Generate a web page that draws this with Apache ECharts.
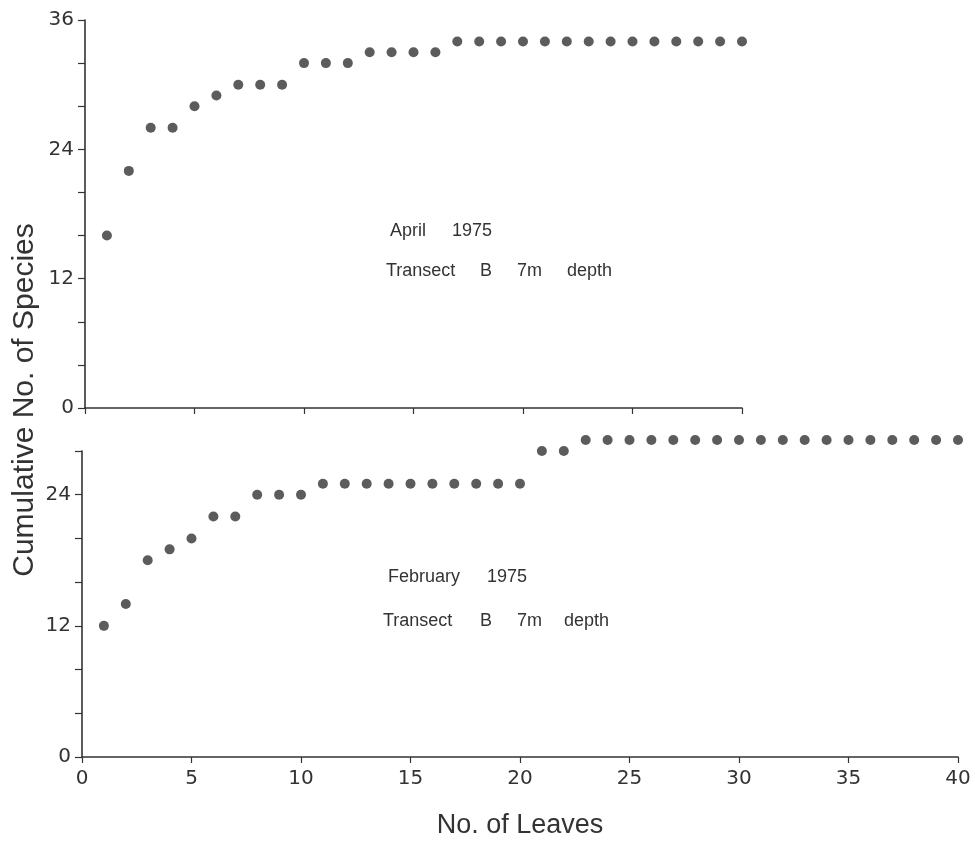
<!DOCTYPE html>
<html>
<head>
<meta charset="utf-8">
<script src="https://cdn.jsdelivr.net/npm/echarts@6/dist/echarts.min.js"></script>
<style>html,body{margin:0;padding:0;background:#fff}#c{width:975px;height:844px}</style>
</head>
<body>
<div id="c"></div>
<script>
// Top panel: April 1975
const aprilLeaves = [1,2,3,4,5,6,7,8,9,10,11,12,13,14,15,16,17,18,19,20,21,22,23,24,25,26,27,28,29,30];
const aprilSpecies = [16,22,26,26,28,29,30,30,30,32,32,32,33,33,33,33,34,34,34,34,34,34,34,34,34,34,34,34,34,34];
// Bottom panel: February 1975
const febLeaves = [1,2,3,4,5,6,7,8,9,10,11,12,13,14,15,16,17,18,19,20,21,22,23,24,25,26,27,28,29,30,31,32,33,34,35,36,37,38,39,40];
const febSpecies = [12,14,18,19,20,22,22,24,24,24,25,25,25,25,25,25,25,25,25,25,28,28,29,29,29,29,29,29,29,29,29,29,29,29,29,29,29,29,29,29];
const yLabelsTop = [0,12,24,36];
const yLabelsBottom = [0,12,24];

const FONT = '"Liberation Sans", Arial, sans-serif';
const TICKFONT = '"DejaVu Sans", sans-serif';
const INK = '#333';
const chart = echarts.init(document.getElementById('c'), null, {renderer:'canvas'});

function yAxis(gridIndex, max, labels){
  return {
    type:'value', gridIndex, min:0, max, interval:4,
    splitLine:{show:false},
    axisLine:{show:true, lineStyle:{color:INK, width:1.6}},
    axisTick:{show:true, length:7, lineStyle:{color:INK, width:1.2}},
    axisLabel:{margin:11, color:INK, fontSize:20, fontFamily:TICKFONT,
      formatter:v => labels.indexOf(v) >= 0 ? String(v) : ''}
  };
}
function xAxis(gridIndex, max, showLabels){
  return {
    type:'value', gridIndex, min:0, max, interval:5,
    splitLine:{show:false},
    axisLine:{show:true, lineStyle:{color:INK, width:1.6}},
    axisTick:{show:true, length:6, lineStyle:{color:INK, width:1.2}},
    axisLabel:{show:showLabels, margin:12, color:INK, fontSize:20, fontFamily:TICKFONT}
  };
}
const dot = {symbol:'circle', symbolSize:10, clip:false, itemStyle:{color:'#333'}};

function word(x, y, t){
  return {type:'text', x, y, style:{text:t, fill:INK, font:'18px '+FONT, verticalAlign:'middle'}};
}

chart.setOption({
  animation:false,
  backgroundColor:'#fff',
  grid:[
    {left:85, top:20, width:657, height:388},
    {left:82, top:451, width:876, height:306}
  ],
  xAxis:[xAxis(0,30,false), xAxis(1,40,true)],
  yAxis:[yAxis(0,36,yLabelsTop), yAxis(1,28,yLabelsBottom)],
  series:[
    Object.assign({type:'scatter', xAxisIndex:0, yAxisIndex:0,
      data:aprilLeaves.map((x,i)=>[x,aprilSpecies[i]])}, dot),
    Object.assign({type:'scatter', xAxisIndex:1, yAxisIndex:1,
      data:febLeaves.map((x,i)=>[x,febSpecies[i]])}, dot)
  ],
  graphic:[
    word(390, 231, 'April'), word(452, 231, '1975'),
    word(386, 271, 'Transect'), word(480, 271, 'B'), word(517, 271, '7m'), word(567, 271, 'depth'),
    word(388, 577, 'February'), word(487, 577, '1975'),
    word(383, 621, 'Transect'), word(480, 621, 'B'), word(517, 621, '7m'), word(564, 621, 'depth'),
    {type:'text', x:520, y:826, style:{text:'No. of Leaves', fill:INK, font:'27px '+FONT, align:'center', verticalAlign:'middle'}},
    {type:'text', x:25, y:400, rotation:Math.PI/2, style:{text:'Cumulative No. of Species', fill:INK, font:'30px '+FONT, align:'center', verticalAlign:'middle'}}
  ]
});
</script>
</body>
</html>
